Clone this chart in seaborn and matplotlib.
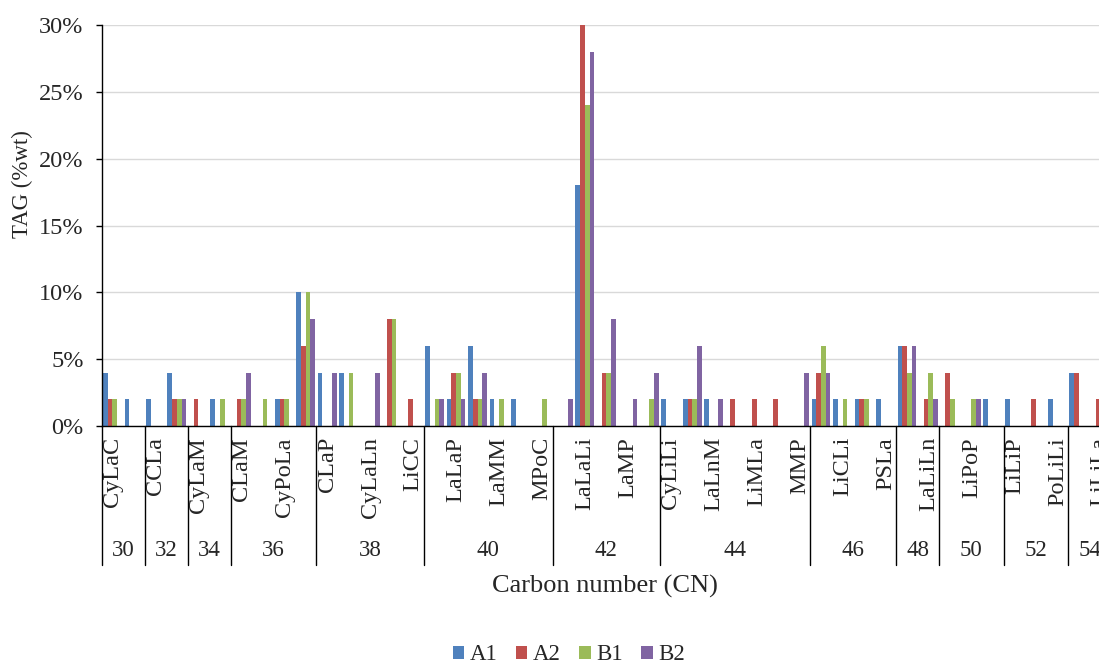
import numpy as np
import pandas as pd
import matplotlib.pyplot as plt
import seaborn as sns

# ---------------------------------------------------------------
# Data (TAG %wt per species, grouped by carbon number)
# ---------------------------------------------------------------
samples = ["A1", "A2", "B1", "B2"]

tag_labels = [
    "CyLaC", "", "CCLa", "", "CyLaM", "", "CLaM", "", "CyPoLa", "",
    "CLaP", "", "CyLaLn", "", "LiCC",
    "", "LaLaP", "", "LaMM", "", "MPoC",
    "", "LaLaLi", "", "LaMP", "",
    "CyLiLi", "", "LaLnM", "", "LiMLa", "", "MMP",
    "", "LiCLi", "", "PSLa",
    "", "LaLiLn",
    "", "LiPoP", "",
    "LiLiP", "", "PoLiLi",
    "", "LiLiLa",
]
cn_groups = [30, 32, 34, 36, 38, 40, 42, 44, 46, 48, 50, 52, 54]
cn_sizes = [2, 2, 2, 4, 5, 6, 5, 7, 4, 2, 3, 3, 2]

A1 = [4, 2, 2, 4, 0, 2, 0, 0, 2, 10, 4, 4, 0, 0, 0, 6, 2, 6, 2, 2, 0,
      0, 18, 0, 0, 0, 2, 2, 2, 0, 0, 0, 0, 2, 2, 2, 2, 6, 0, 0, 0, 2,
      2, 0, 2, 4, 0]
A2 = [2, 0, 0, 2, 2, 0, 2, 0, 2, 6, 0, 0, 0, 8, 2, 0, 4, 2, 0, 0, 0,
      0, 30, 4, 0, 0, 0, 2, 0, 2, 2, 2, 0, 4, 0, 2, 0, 6, 2, 4, 0, 0,
      0, 2, 0, 4, 2]
B1 = [2, 0, 0, 2, 0, 2, 2, 2, 2, 10, 0, 4, 0, 8, 0, 2, 4, 2, 2, 0, 2,
      0, 24, 4, 0, 2, 0, 2, 0, 0, 0, 0, 0, 6, 2, 2, 0, 4, 4, 2, 2, 0,
      0, 0, 0, 0, 0]
B2 = [0, 0, 0, 2, 0, 0, 4, 0, 0, 8, 4, 0, 4, 0, 0, 2, 2, 4, 0, 0, 0,
      2, 28, 8, 2, 4, 0, 6, 2, 0, 0, 0, 4, 4, 0, 0, 0, 6, 2, 0, 2, 0,
      0, 0, 0, 0, 0]

colors = ["#4F81BD", "#C0504D", "#9BBB59", "#8064A2"]

n = len(tag_labels)
df = pd.DataFrame({
    "pos": np.tile(np.arange(n), 4),
    "sample": np.repeat(samples, n),
    "value": A1 + A2 + B1 + B2,
})

# ---------------------------------------------------------------
# Style
# ---------------------------------------------------------------
sns.set_style("white")
plt.rcParams["font.family"] = ["Liberation Serif", "DejaVu Serif"]
FS = 16.5

fig = plt.figure(figsize=(10.99, 6.64), dpi=100)
# plot area runs past the right edge, as in the cropped original
ax = fig.add_axes([101.7 / 1099, 1 - 426 / 664, (1111 - 101.7) / 1099, 401 / 664])

sns.barplot(data=df, x="pos", y="value", hue="sample", palette=colors,
            width=0.875, linewidth=0, saturation=1, ax=ax)

ax.set_xlim(-0.5, n - 0.5)
ax.set_ylim(0, 30)
ax.set_yticks(np.arange(0, 31, 5))
ax.set_yticklabels([f"{v}%" for v in range(0, 31, 5)], fontsize=17.5)
ax.yaxis.grid(True, color="#D9D9D9", linewidth=1)
ax.set_axisbelow(True)
ax.tick_params(axis="y", direction="out", length=4, width=1, color="black",
               left=True, pad=9)

lab_pos = [i for i, t in enumerate(tag_labels) if t]
ax.set_xticks(lab_pos)
ax.set_xticklabels([tag_labels[i] for i in lab_pos], rotation=90, fontsize=17.5)
ax.tick_params(axis="x", length=0, pad=8)

for side in ["top", "right"]:
    ax.spines[side].set_visible(False)
for side in ["left", "bottom"]:
    ax.spines[side].set_color("black")
    ax.spines[side].set_linewidth(1)

ax.set_xlabel("")
ax.set_ylabel("")

# hierarchical carbon-number axis
trans = ax.get_xaxis_transform()
line_bottom = (426 - 565) / 401
label_y = (426 - 550) / 401
start = 0
for cn, size in zip(cn_groups, cn_sizes):
    ax.plot([start - 0.5, start - 0.5], [0, line_bottom], color="black",
            lw=1, transform=trans, clip_on=False)
    ax.text(start - 0.5 + size / 2, label_y, str(cn), transform=trans,
            ha="center", va="center", fontsize=FS)
    start += size
ax.plot([start - 0.5, start - 0.5], [0, line_bottom], color="black",
        lw=1, transform=trans, clip_on=False)

fig.text(605 / 1099, 1 - 586 / 664, "Carbon number (CN)", ha="center",
         va="center", fontsize=19)
fig.text(22 / 1099, 1 - 184 / 664, "TAG (%wt)", ha="center", va="center",
         rotation=90, fontsize=FS)

handles, labels = ax.get_legend_handles_labels()
ax.legend_.remove()
fig.legend(handles, labels, loc="center", bbox_to_anchor=(569 / 1099, 1 - 655 / 664),
           ncol=4, frameon=False, fontsize=FS, handlelength=0.5, handleheight=0.5,
           handletextpad=0.25, columnspacing=0.8)

fig.savefig("out.png", dpi=100)
